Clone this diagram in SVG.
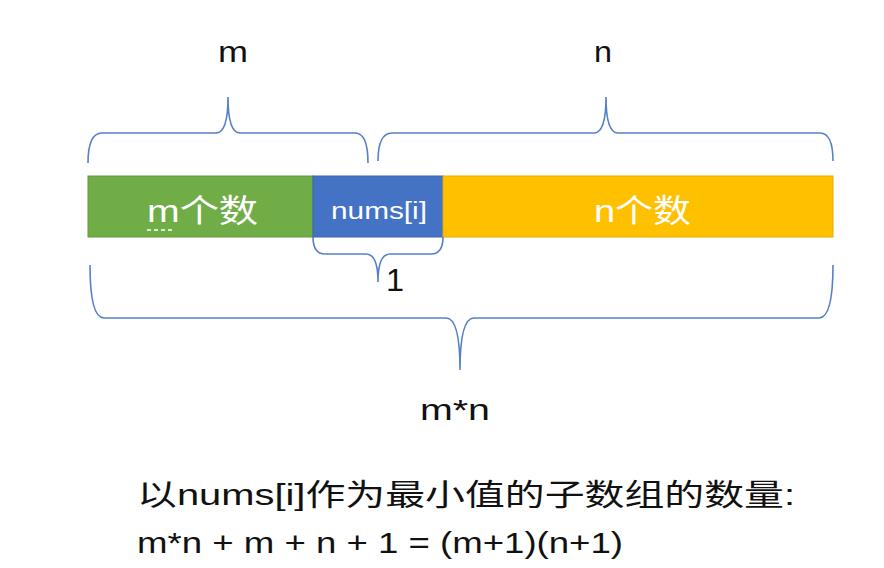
<svg xmlns="http://www.w3.org/2000/svg" width="884" height="568" viewBox="0 0 884 568">
<style>
.br{fill:none;stroke:#5580C8;stroke-width:1.6}
.t{font-family:"Liberation Sans","Noto Sans CJK SC",sans-serif}
.w{fill:#fff}
.k{fill:#111}
</style>
<rect width="884" height="568" fill="#fff"/>
<g id="seg-m">
<rect x="88" y="176" width="225" height="61" fill="#70AD47" stroke="#5E9A3A" stroke-width="1"/>
<text class="t w" x="147" y="222" font-size="32" textLength="111" lengthAdjust="spacingAndGlyphs">m个数</text>
<line x1="147" y1="230" x2="175" y2="230" stroke="#fff" stroke-width="1.5" stroke-dasharray="4,3"/>
</g>
<g id="seg-nums">
<rect x="313" y="176" width="130" height="61" fill="#4472C4" stroke="#3A64B0" stroke-width="1"/>
<text class="t w" x="331" y="219" font-size="23" textLength="96" lengthAdjust="spacingAndGlyphs">nums[i]</text>
</g>
<g id="seg-n">
<rect x="443" y="176" width="390" height="61" fill="#FFC000" stroke="#E6AD00" stroke-width="1"/>
<text class="t w" x="594" y="222" font-size="32" textLength="97" lengthAdjust="spacingAndGlyphs">n个数</text>
</g>
<g id="connectors">
<path class="br" d="M88,163 Q88,133 102,133 L216,133 Q228,133 228,97 Q228,133 240,133 L355,133 Q368,133 368,163"/>
<path class="br" d="M378,161 Q378,133 392,133 L594,133 Q606,133 606,97 Q606,133 618,133 L820,133 Q833,133 833,161"/>
<path class="br" d="M313,237 Q313,254 325,254 L366,254 Q378,254 378,282 Q378,254 390,254 L431,254 Q443,254 443,237"/>
<path class="br" d="M90,265 Q90,318 104,318 L446,318 Q460,318 460,370 Q460,318 474,318 L819,318 Q833,318 833,265"/>
</g>
<g id="labels">
<text class="t k" x="218" y="62" font-size="30" textLength="30" lengthAdjust="spacingAndGlyphs">m</text>
<text class="t k" x="594" y="62" font-size="30" textLength="18" lengthAdjust="spacingAndGlyphs">n</text>
<text class="t k" x="386" y="291" font-size="31" textLength="18" lengthAdjust="spacingAndGlyphs">1</text>
<text class="t k" x="420" y="420" font-size="30" textLength="70" lengthAdjust="spacingAndGlyphs">m*n</text>
<text class="t k" x="137" y="505" font-size="30" textLength="658" lengthAdjust="spacingAndGlyphs">以nums[i]作为最小值的子数组的数量:</text>
<text class="t k" x="137" y="553" font-size="30" textLength="486" lengthAdjust="spacingAndGlyphs">m*n + m + n + 1 = (m+1)(n+1)</text>
</g>
</svg>
